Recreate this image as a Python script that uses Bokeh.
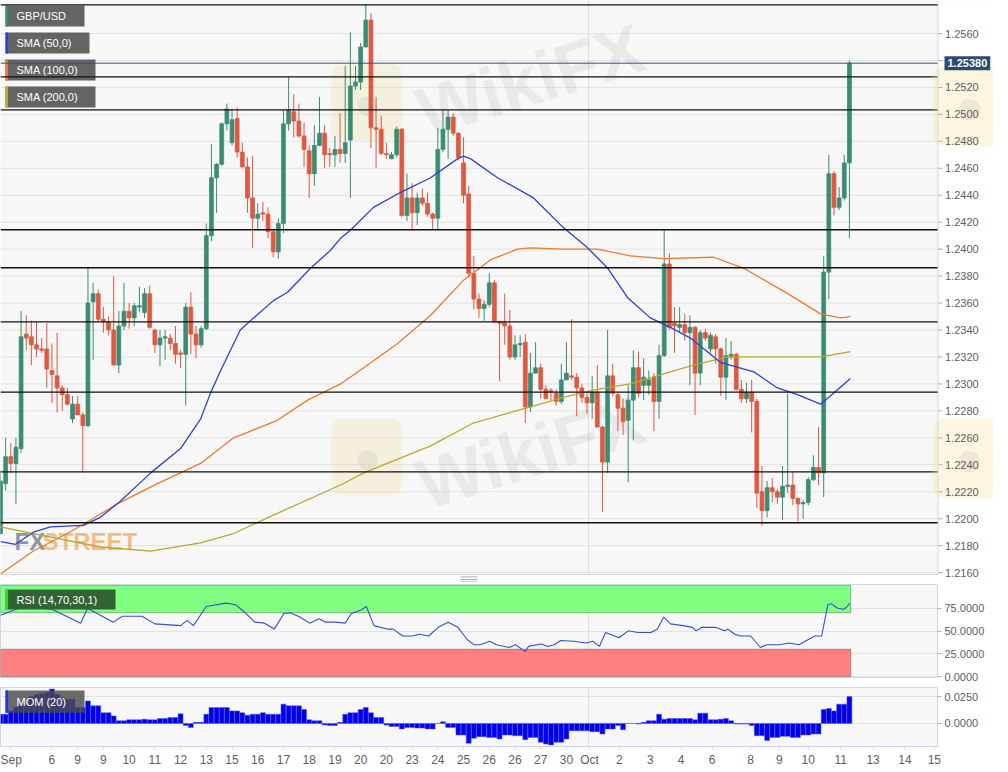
from bokeh.plotting import figure
from bokeh.layouts import column
from bokeh.models import (ColumnDataSource, Span, BoxAnnotation, Label, FixedTicker,
                          NumeralTickFormatter, Range1d)
from bokeh.embed import file_html
from bokeh.resources import INLINE

# ---------------- data (4h candles, GBP/USD) ----------------
opens = [1.2189, 1.2226, 1.2246, 1.2241, 1.2252, 1.2337, 1.2335, 1.2329, 1.2326, 1.2326,
         1.2310, 1.2306, 1.2297, 1.2292, 1.2274, 1.2285, 1.2277, 1.2269, 1.2361, 1.2367,
         1.2348, 1.2346, 1.2340, 1.2314, 1.2343, 1.2354, 1.2349, 1.2357, 1.2353, 1.2367,
         1.2340, 1.2329, 1.2334, 1.2334, 1.2330, 1.2323, 1.2322, 1.2357, 1.2337, 1.2329,
         1.2341, 1.2410, 1.2453, 1.2463, 1.2493, 1.2479, 1.2497, 1.2472, 1.2461, 1.2438,
         1.2423, 1.2427, 1.2426, 1.2413, 1.2398, 1.2419, 1.2493, 1.2502, 1.2495, 1.2484,
         1.2473, 1.2456, 1.2477, 1.2486, 1.2471, 1.2470, 1.2474, 1.2471, 1.2481, 1.2521,
         1.2524, 1.2550, 1.2570, 1.2490, 1.2489, 1.2471, 1.2467, 1.2470, 1.2489, 1.2425,
         1.2438, 1.2427, 1.2438, 1.2434, 1.2426, 1.2423, 1.2474, 1.2489, 1.2498, 1.2486,
         1.2464, 1.2441, 1.2382, 1.2363, 1.2356, 1.2359, 1.2375, 1.2346, 1.2346, 1.2343,
         1.2320, 1.2329, 1.2331, 1.2283, 1.2308, 1.2312, 1.2296, 1.2295, 1.2293, 1.2287,
         1.2303, 1.2306, 1.2305, 1.2297, 1.2290, 1.2286, 1.2294, 1.2268, 1.2242, 1.2306,
         1.2292, 1.2282, 1.2273, 1.2288, 1.2312, 1.2299, 1.2299, 1.2305, 1.2287, 1.2321,
         1.2389, 1.2345, 1.2342, 1.2344, 1.2338, 1.2342, 1.2308, 1.2338, 1.2326, 1.2335,
         1.2326, 1.2305, 1.2320, 1.2322, 1.2296, 1.2289, 1.2294, 1.2287, 1.2220, 1.2206,
         1.2223, 1.2220, 1.2216, 1.2224, 1.2225, 1.2215, 1.2211, 1.2212, 1.2229, 1.2238,
         1.2234, 1.2383, 1.2456, 1.2431, 1.2438, 1.2464]
highs = [1.2236, 1.2260, 1.2256, 1.2260, 1.2354, 1.2351, 1.2347, 1.2346, 1.2334, 1.2345,
         1.2330, 1.2338, 1.2299, 1.2297, 1.2291, 1.2291, 1.2279, 1.2386, 1.2375, 1.2370,
         1.2357, 1.2350, 1.2380, 1.2354, 1.2375, 1.2360, 1.2360, 1.2372, 1.2371, 1.2373,
         1.2341, 1.2340, 1.2340, 1.2337, 1.2343, 1.2325, 1.2360, 1.2368, 1.2343, 1.2343,
         1.2419, 1.2478, 1.2464, 1.2494, 1.2508, 1.2504, 1.2505, 1.2479, 1.2468, 1.2469,
         1.2434, 1.2435, 1.2431, 1.2414, 1.2423, 1.2503, 1.2528, 1.2515, 1.2508, 1.2494,
         1.2477, 1.2492, 1.2513, 1.2492, 1.2475, 1.2484, 1.2501, 1.2536, 1.2561, 1.2536,
         1.2553, 1.2582, 1.2575, 1.2513, 1.2499, 1.2479, 1.2472, 1.2491, 1.2490, 1.2456,
         1.2449, 1.2442, 1.2445, 1.2442, 1.2427, 1.2490, 1.2504, 1.2503, 1.2501, 1.2487,
         1.2483, 1.2447, 1.2395, 1.2367, 1.2362, 1.2382, 1.2377, 1.2347, 1.2367, 1.2355,
         1.2336, 1.2336, 1.2337, 1.2323, 1.2331, 1.2315, 1.2299, 1.2297, 1.2296, 1.2315,
         1.2331, 1.2348, 1.2308, 1.2300, 1.2294, 1.2306, 1.2314, 1.2269, 1.2340, 1.2315,
         1.2294, 1.2289, 1.2299, 1.2325, 1.2324, 1.2319, 1.2310, 1.2308, 1.2329, 1.2414,
         1.2397, 1.2357, 1.2357, 1.2352, 1.2351, 1.2343, 1.2340, 1.2341, 1.2338, 1.2337,
         1.2327, 1.2334, 1.2332, 1.2323, 1.2303, 1.2301, 1.2303, 1.2289, 1.2239, 1.2228,
         1.2230, 1.2222, 1.2239, 1.2293, 1.2235, 1.2216, 1.2214, 1.2231, 1.2247, 1.2268,
         1.2395, 1.2470, 1.2458, 1.2446, 1.2470, 1.2540]
lows = [1.2188, 1.2221, 1.2234, 1.2211, 1.2249, 1.2325, 1.2314, 1.2320, 1.2323, 1.2297,
        1.2286, 1.2279, 1.2280, 1.2284, 1.2271, 1.2277, 1.2234, 1.2268, 1.2318, 1.2346,
        1.2338, 1.2336, 1.2314, 1.2308, 1.2340, 1.2341, 1.2343, 1.2353, 1.2349, 1.2341,
        1.2323, 1.2313, 1.2318, 1.2325, 1.2315, 1.2312, 1.2284, 1.2322, 1.2319, 1.2327,
        1.2340, 1.2406, 1.2427, 1.2462, 1.2488, 1.2477, 1.2468, 1.2461, 1.2427, 1.2401,
        1.2415, 1.2421, 1.2408, 1.2394, 1.2393, 1.2412, 1.2488, 1.2483, 1.2483, 1.2461,
        1.2438, 1.2447, 1.2477, 1.2460, 1.2461, 1.2461, 1.2464, 1.2464, 1.2438, 1.2518,
        1.2518, 1.2550, 1.2475, 1.2460, 1.2470, 1.2467, 1.2467, 1.2468, 1.2424, 1.2421,
        1.2414, 1.2418, 1.2432, 1.2424, 1.2415, 1.2414, 1.2472, 1.2467, 1.2484, 1.2466,
        1.2434, 1.2379, 1.2355, 1.2349, 1.2347, 1.2357, 1.2345, 1.2302, 1.2329, 1.2318,
        1.2318, 1.2320, 1.2271, 1.2279, 1.2308, 1.2289, 1.2289, 1.2288, 1.2284, 1.2285,
        1.2303, 1.2303, 1.2276, 1.2286, 1.2278, 1.2274, 1.2268, 1.2205, 1.2234, 1.2291,
        1.2265, 1.2262, 1.2227, 1.2258, 1.2290, 1.2288, 1.2292, 1.2265, 1.2274, 1.2320,
        1.2340, 1.2323, 1.2338, 1.2332, 1.2299, 1.2277, 1.2299, 1.2332, 1.2323, 1.2315,
        1.2291, 1.2288, 1.2318, 1.2295, 1.2286, 1.2286, 1.2264, 1.2208, 1.2195, 1.2201,
        1.2212, 1.2211, 1.2199, 1.2219, 1.2210, 1.2198, 1.2200, 1.2210, 1.2228, 1.2225,
        1.2216, 1.2363, 1.2425, 1.2429, 1.2436, 1.2408]
closes = [1.2228, 1.2246, 1.2241, 1.2253, 1.2335, 1.2334, 1.2329, 1.2326, 1.2325, 1.2311,
          1.2307, 1.2297, 1.2292, 1.2285, 1.2285, 1.2277, 1.2269, 1.2360, 1.2367, 1.2348,
          1.2346, 1.2340, 1.2314, 1.2343, 1.2354, 1.2349, 1.2358, 1.2358, 1.2367, 1.2342,
          1.2329, 1.2334, 1.2335, 1.2330, 1.2322, 1.2322, 1.2357, 1.2337, 1.2329, 1.2341,
          1.2410, 1.2453, 1.2463, 1.2493, 1.2504, 1.2496, 1.2472, 1.2461, 1.2438, 1.2423,
          1.2426, 1.2426, 1.2413, 1.2398, 1.2419, 1.2493, 1.2503, 1.2495, 1.2484, 1.2474,
          1.2456, 1.2477, 1.2486, 1.2470, 1.2470, 1.2474, 1.2471, 1.2479, 1.2521, 1.2524,
          1.2550, 1.2570, 1.2490, 1.2489, 1.2471, 1.2470, 1.2470, 1.2489, 1.2425, 1.2438,
          1.2427, 1.2438, 1.2434, 1.2426, 1.2423, 1.2474, 1.2489, 1.2498, 1.2486, 1.2468,
          1.2440, 1.2382, 1.2363, 1.2356, 1.2359, 1.2375, 1.2346, 1.2345, 1.2343, 1.2320,
          1.2329, 1.2330, 1.2283, 1.2308, 1.2312, 1.2296, 1.2289, 1.2294, 1.2287, 1.2303,
          1.2308, 1.2305, 1.2297, 1.2290, 1.2286, 1.2294, 1.2268, 1.2242, 1.2306, 1.2293,
          1.2282, 1.2272, 1.2288, 1.2312, 1.2293, 1.2305, 1.2303, 1.2287, 1.2321, 1.2389,
          1.2342, 1.2343, 1.2344, 1.2338, 1.2342, 1.2308, 1.2338, 1.2334, 1.2336, 1.2326,
          1.2305, 1.2321, 1.2322, 1.2296, 1.2289, 1.2294, 1.2287, 1.2219, 1.2206, 1.2223,
          1.2220, 1.2216, 1.2224, 1.2225, 1.2215, 1.2211, 1.2212, 1.2229, 1.2238, 1.2234,
          1.2383, 1.2456, 1.2431, 1.2438, 1.2464, 1.2538]

# moving averages (candle index, value)
sma50_x = [0, 2.9, 6.4, 9.7, 16.1, 19.4, 23.3, 29.2, 35.0, 38.9, 40.8, 42.8, 46.6, 49.2, 53.1,
           55.8, 60.3, 64.1, 66.1, 68.0, 72.5, 77.7, 83.6, 88.8, 90.0, 91.4, 96.6, 103.6, 109.4,
           114.1, 118.0, 121.9, 126.3, 130.2, 134.1, 139.9, 146.4, 151.0, 154.9, 159.4, 161.9, 165.2]
sma50_v = [1.2183, 1.2181, 1.2190, 1.2194, 1.2195, 1.2201, 1.2213, 1.2234, 1.2252, 1.2274, 1.2293,
           1.2310, 1.2340, 1.2349, 1.2362, 1.2368, 1.2386, 1.2399, 1.2408, 1.2414, 1.2431, 1.2442,
           1.2453, 1.2467, 1.2469, 1.2467, 1.2453, 1.2438, 1.2416, 1.2401, 1.2386, 1.2364, 1.2349,
           1.2342, 1.2334, 1.2316, 1.2309, 1.2297, 1.2292, 1.2285, 1.2293, 1.2304]
sma100_x = [0, 6.4, 13.0, 17.5, 22.7, 30.5, 38.9, 45.3, 48.0, 53.8, 59.7, 66.1, 70.6, 77.2, 83.6,
            90.0, 95.2, 100.5, 103.0, 109.4, 116.0, 122.4, 128.9, 138.6, 144.4, 153.0, 159.4, 163.3, 165.2]
sma100_v = [1.2159, 1.2176, 1.2189, 1.2199, 1.2211, 1.2226, 1.2241, 1.2260, 1.2264, 1.2273, 1.2288,
            1.2300, 1.2312, 1.2330, 1.2351, 1.2377, 1.2392, 1.2400, 1.2401, 1.2400, 1.2400, 1.2395,
            1.2393, 1.2394, 1.2386, 1.2367, 1.2352, 1.2349, 1.2350]
sma200_x = [0, 6.4, 19.4, 29.2, 38.9, 45.3, 53.8, 66.1, 70.6, 83.6, 91.9, 103.0, 109.4, 116.0,
            122.4, 130.2, 134.7, 141.3, 147.7, 154.1, 159.4, 165.2]
sma200_v = [1.2194, 1.2189, 1.2179, 1.2176, 1.2182, 1.2189, 1.2204, 1.2225, 1.2234, 1.2254, 1.2271,
            1.2283, 1.2290, 1.2296, 1.2300, 1.2309, 1.2314, 1.2320, 1.2320, 1.2320, 1.2320, 1.2324]

# RSI (14)
rsi_x = [0, 4.4, 10, 15.6, 16.9, 21.9, 23.7, 27.5, 30, 35, 36.3, 37.5, 40, 43.8, 45.7, 47.6, 49.4,
         51.3, 53.2, 55.1, 56.3, 58.2, 60.1, 61.9, 63.2, 65.1, 67, 68.2, 70.1, 71.1, 72.6, 75.1,
         76.3, 78.2, 80.1, 81.3, 83.2, 85.1, 87, 88.9, 90.7, 92, 93.2, 95.1, 96.4, 98.9, 100.1,
         102, 102.6, 105.1, 106.4, 107.6, 108.9, 111.4, 113.9, 115.1, 116.4, 117.6, 120.2, 122,
         123.9, 126.4, 127.7, 128.9, 130.2, 132.7, 134.5, 135.2, 136.4, 138.9, 140.8, 141.4,
         142.7, 143.9, 145.8, 147.7, 148.9, 151.4, 153.3, 155.2, 156.4, 158.3, 159.6, 160.8,
         161.5, 162.7, 163.9, 164.6, 165]
rsi_v = [67.3, 76.8, 73.8, 58.6, 74.9, 59.7, 66.2, 66.2, 57.8, 55.9, 61.6, 55.9, 76.8, 80.6, 78.7,
         70, 59.7, 58.6, 52.1, 69.2, 70, 65.4, 58.6, 63.5, 59.7, 59.7, 58.6, 69.2, 73, 76.8, 55.9,
         52.1, 52.1, 44.5, 44.5, 46.4, 44.5, 54, 59.7, 54, 40.7, 35, 35, 38.8, 35, 31.9, 35, 27.4,
         33.1, 35.7, 33.1, 35, 39.5, 38.8, 36.9, 38.8, 33.1, 48.3, 42.6, 50.2, 48.3, 48.3, 52.1,
         65.4, 57.8, 55.9, 54, 50.2, 54, 54, 50.2, 52.1, 46.4, 44.5, 44.5, 31.9, 35, 35, 36.9, 35,
         38.8, 44.5, 44.5, 78.7, 79.8, 74.9, 73.8, 76.8, 80.6]

# Momentum (20), one bar per candle
mom = [0.0086, 0.0086, 0.0117, 0.0150, 0.0180, 0.0180, 0.0250, 0.0270, 0.0280, 0.0290,
       0.0320, 0.0270, 0.0240, 0.0225, 0.0225, 0.0148, 0.0148, 0.0210, 0.0164, 0.0164,
       0.0100, 0.0100, 0.0070, 0.0025, 0.0025, 0.0034, 0.0034, 0.0034, 0.0040, 0.0034,
       0.0034, 0.0046, 0.0046, 0.0055, 0.0055, 0.0090, -0.0020, -0.0037, 0.0010, 0.0010,
       0.0086, 0.0148, 0.0148, 0.0148, 0.0148, 0.0117, 0.0117, 0.0100, 0.0077, 0.0086,
       0.0086, 0.0100, 0.0086, 0.0086, 0.0086, 0.0180, 0.0164, 0.0164, 0.0164, 0.0130,
       0.0034, 0.0025, 0.0025, -0.0015, -0.0020, -0.0020, 0.0010, 0.0086, 0.0100, 0.0100,
       0.0130, 0.0148, 0.0100, 0.0055, 0.0055, -0.0015, -0.0028, -0.0028, -0.0052, -0.0037,
       -0.0037, -0.0043, -0.0043, -0.0052, -0.0052, 0.0000, 0.0015, -0.0037, -0.0037, -0.0108,
       -0.0108, -0.0185, -0.0139, -0.0123, -0.0123, -0.0130, -0.0130, -0.0145, -0.0108, -0.0108,
       -0.0114, -0.0114, -0.0151, -0.0130, -0.0130, -0.0176, -0.0191, -0.0200, -0.0176, -0.0176,
       -0.0145, -0.0068, -0.0068, -0.0068, -0.0068, -0.0077, -0.0077, -0.0099, -0.0052, -0.0052,
       -0.0020, -0.0059, 0.0000, 0.0000, -0.0006, 0.0010, 0.0025, 0.0025, 0.0086, 0.0040,
       0.0046, 0.0046, 0.0046, 0.0046, 0.0046, 0.0034, 0.0096, 0.0096, 0.0034, 0.0034,
       0.0040, 0.0046, 0.0025, -0.0006, -0.0006, -0.0006, -0.0020, -0.0114, -0.0114, -0.0160,
       -0.0130, -0.0130, -0.0120, -0.0120, -0.0130, -0.0130, -0.0108, -0.0108, -0.0099, -0.0099,
       0.0130, 0.0139, 0.0117, 0.0180, 0.0180, 0.0250]

# horizontal support / resistance levels
levels = [1.25813, 1.25279, 1.25034, 1.24144, 1.23862, 1.23461, 1.22939, 1.22348, 1.21970]

price_ticks = [1.2160, 1.2180, 1.2200, 1.2220, 1.2240, 1.2260, 1.2280, 1.2300, 1.2320, 1.2340,
               1.2360, 1.2380, 1.2400, 1.2420, 1.2440, 1.2460, 1.2480, 1.2500, 1.2520, 1.2540, 1.2560]
rsi_ticks = [0, 25, 50, 75]
mom_ticks = [0.0, 0.025]
date_ticks = [1.9, 10, 15, 20, 25, 30, 35, 40, 45, 50, 55, 60, 65, 70, 75, 80, 85, 90, 95, 100,
              105, 110, 114.5, 120.3, 126.3, 132.3, 138.3, 145.8, 151.4, 157.0, 163.3, 169.6, 175.8, 181.5]
date_labels = ["Sep", "6", "9", "9", "10", "11", "12", "13", "15", "16", "17", "18", "19", "20", "20",
               "23", "24", "25", "26", "26", "27", "30", "Oct", "2", "3", "4", "6", "8", "9", "10",
               "11", "13", "14", "15"]
oct_pos = 114.3

# ---------------- helpers (pixel -> data, for decorations only) ----------------
PX = 5.145
def fx(px):
    return px / PX
def fp(py):
    return 1.25845 - py * 0.0000742
def fr(py):
    return (676.0 - py) / 0.912
def fm(py):
    return (722.7 - py) / 1068.0

FONT = "Liberation Sans"
GREEN = "#3b8c73"
RED = "#df5840"
C50 = "#2b42d6"
C100 = "#ee7a2a"
C200 = "#b9a82c"
AXIS_C = "#ccd6eb"
TICK_C = "#aab0bb"
LABEL_C = "#606060"
BG = "#f7f7f7"

n = len(closes)
idx = list(range(n))
colors = [GREEN if c >= o else RED for o, c in zip(opens, closes)]
src = ColumnDataSource(dict(x=idx, h=highs, l=lows,
                            top=[max(o, c) for o, c in zip(opens, closes)],
                            bot=[min(o, c) for o, c in zip(opens, closes)],
                            col=colors))


def tag(fig, x0, x1, y0, y1, strip, text, tx, ty, fill="#5c5c5c", alpha=0.95):
    fig.add_layout(BoxAnnotation(left=x0, right=x1, top=y0, bottom=y1, fill_color=fill,
                                 fill_alpha=alpha, line_alpha=0, level="annotation"))
    fig.add_layout(BoxAnnotation(left=x0, right=x0 + 0.5, top=y0, bottom=y1, fill_color=strip,
                                 fill_alpha=1, line_alpha=0, level="annotation"))
    fig.add_layout(Label(x=tx, y=ty, text=text, text_font=FONT, text_font_size="11px",
                         text_color="white", text_baseline="middle", text_align="left",
                         level="annotation"))


# ---------------- main price panel (frame also hosts the price scale) ----------------
p = figure(frame_width=993, frame_height=582, x_range=Range1d(0, fx(993)),
           y_range=Range1d(fp(582), fp(0)), x_axis_location=None, y_axis_location=None,
           toolbar_location=None, output_backend="svg", background_fill_color=BG,
           border_fill_color="white", outline_line_color=None, min_border=0)
p.xgrid.visible = False
p.ygrid.visible = False
for t in price_ticks:
    p.add_layout(Span(location=t, dimension="width", line_color="#e2e2e2", line_width=1,
                      level="underlay"))
p.add_layout(Span(location=oct_pos, dimension="height", line_color="#dcdcdc", line_width=1,
                  level="underlay"))

# watermarks
for (wx, wy) in [(530, 80), (530, 452)]:
    p.add_layout(Label(x=fx(wx), y=fp(wy), text="WikiFX", text_font=FONT, text_font_size="70px",
                       text_font_style="bold", text_color="#8a8a8a", text_alpha=0.13,
                       text_align="center", text_baseline="middle", angle=0.30, level="underlay"))
for (lx, ly) in [(331, 64), (331, 418)]:
    p.add_layout(BoxAnnotation(left=fx(lx), right=fx(lx + 71), top=fp(ly), bottom=fp(ly + 76),
                               fill_color="#f3d98a", fill_alpha=0.22, line_alpha=0,
                               border_radius=10, level="underlay"))
    p.add_layout(Label(x=fx(lx + 36), y=fp(ly + 38), text="\u25CF", text_font_size="46px",
                       text_color="#8a8a8a", text_alpha=0.15, text_align="center",
                       text_baseline="middle", level="underlay"))
p.add_layout(Label(x=fx(14), y=fp(541), text="FX", text_font=FONT,
                   text_font_size="24px", text_font_style="bold", text_color="#7d8494",
                   text_alpha=0.85, text_baseline="middle", level="underlay"))
p.add_layout(Label(x=fx(42), y=fp(541), text="STREET", text_font=FONT,
                   text_font_size="24px", text_font_style="bold", text_color="#f0ae62",
                   text_alpha=0.8, text_baseline="middle", level="underlay"))

p.segment(x0="x", y0="h", x1="x", y1="l", source=src, line_color="col", line_width=1)
p.vbar(x="x", width=0.74, top="top", bottom="bot", source=src, fill_color="col",
       line_color="col", line_width=0.8)

p.line(sma200_x, sma200_v, line_color=C200, line_width=1.3)
p.line(sma100_x, sma100_v, line_color=C100, line_width=1.3)
p.line(sma50_x, sma50_v, line_color=C50, line_width=1.3)

# legend tags
tag(p, fx(5), fx(84), fp(5), fp(26), GREEN, "GBP/USD", fx(16), fp(15.5))
tag(p, fx(5), fx(89), fp(32), fp(53), C50, "SMA (50,0)", fx(16), fp(42.5))
tag(p, fx(5), fx(95), fp(59), fp(80), C100, "SMA (100,0)", fx(16), fp(69.5))
tag(p, fx(5), fx(95), fp(86), fp(107), C200, "SMA (200,0)", fx(16), fp(96.5))

for lv in levels:
    p.add_layout(Span(location=lv, dimension="width", line_color="#111111", line_width=1.3,
                      level="annotation"))
p.add_layout(Span(location=closes[-1], dimension="width", line_color="#34507a", line_width=1,
                  level="annotation"))

# white area for the price scale and the gap under the frame
p.add_layout(BoxAnnotation(left=fx(937.5), right=fx(1000), top=fp(-2), bottom=fp(584),
                           fill_color="white", fill_alpha=1, line_alpha=0, level="annotation"))
p.add_layout(BoxAnnotation(left=fx(-2), right=fx(938), top=fp(574.5), bottom=fp(584),
                           fill_color="white", fill_alpha=1, line_alpha=0, level="annotation"))
# frame edges / axis line
p.add_layout(BoxAnnotation(left=fx(937), right=fx(938), top=fp(0), bottom=fp(574.5),
                           fill_color=AXIS_C, fill_alpha=1, line_alpha=0, level="annotation"))
p.add_layout(BoxAnnotation(left=fx(-2), right=fx(938), top=fp(573.5), bottom=fp(574.5),
                           fill_color="#d3d7de", fill_alpha=1, line_alpha=0, level="annotation"))
# panel resize handle (three thin strokes)
for hy in (576.0, 578.5, 581.0):
    p.add_layout(BoxAnnotation(left=fx(460), right=fx(477), top=fp(hy), bottom=fp(hy + 0.8),
                               fill_color="#9a9a9a", fill_alpha=1, line_alpha=0, level="annotation"))
# watermark logos beside the scale
for (lx, ly) in [(932, 66), (932, 418)]:
    p.add_layout(BoxAnnotation(left=fx(lx), right=fx(lx + 74), top=fp(ly), bottom=fp(ly + 80),
                               fill_color="#f6dd90", fill_alpha=0.28, line_alpha=0,
                               border_radius=12, level="annotation"))
    p.add_layout(Label(x=fx(lx + 37), y=fp(ly + 40), text="\u25CF", text_font_size="50px",
                       text_color="#8a8a8a", text_alpha=0.13, text_align="center",
                       text_baseline="middle", level="annotation"))

# price scale: ticks and labels
for t in price_ticks:
    p.add_layout(BoxAnnotation(left=fx(938), right=fx(942), top=t + 0.00004, bottom=t - 0.00004,
                               fill_color=TICK_C, fill_alpha=1, line_alpha=0, level="annotation"))
    if abs(t - closes[-1]) > 0.0008:
        p.add_layout(Label(x=fx(944.5), y=t, text="%.4f" % t, text_font=FONT,
                           text_font_size="11px", text_color=LABEL_C, text_align="left",
                           text_baseline="middle", level="annotation"))
p.add_layout(Label(x=fx(944), y=closes[-1], text="%.5f" % closes[-1], text_font=FONT,
                   text_font_size="11px", text_font_style="bold", text_color="white",
                   background_fill_color="#2d4a72", background_fill_alpha=1, padding=3,
                   text_baseline="middle", text_align="left", level="annotation"))

# ---------------- lower panels ----------------
xr = Range1d(0, fx(937))
common = dict(x_range=xr, frame_width=937, toolbar_location=None, output_backend="svg",
              y_axis_location="right", background_fill_color=BG,
              border_fill_color="white", outline_line_color="#d3d7de",
              min_border_left=0, min_border_right=56)


def style(fig, ticks):
    fig.xgrid.visible = False
    fig.ygrid.grid_line_color = "#e2e2e2"
    ax = fig.yaxis[0]
    ax.ticker = FixedTicker(ticks=ticks)
    ax.formatter = NumeralTickFormatter(format="0.0000")
    ax.axis_line_color = AXIS_C
    ax.major_tick_line_color = TICK_C
    ax.major_tick_out = 4
    ax.major_tick_in = 0
    ax.minor_tick_line_color = None
    ax.major_label_standoff = 3
    ax.major_label_text_font = FONT
    ax.major_label_text_font_size = "11px"
    ax.major_label_text_color = LABEL_C
    fig.add_layout(Span(location=oct_pos, dimension="height", line_color="#dcdcdc",
                        line_width=1, level="underlay"))


# RSI
r = figure(frame_height=93, y_range=Range1d(-1, 101), x_axis_location=None,
           min_border_top=2, min_border_bottom=6, **common)
style(r, rsi_ticks)
r.add_layout(BoxAnnotation(left=0, right=n - 1 + 0.25, bottom=70, top=100,
                           fill_color="#80ff80", fill_alpha=1, line_color="#111111",
                           line_width=1, level="underlay"))
r.add_layout(BoxAnnotation(left=0, right=n - 1 + 0.25, bottom=0, top=30,
                           fill_color="#ff8080", fill_alpha=1, line_color="#111111",
                           line_width=1, level="underlay"))
r.line(rsi_x, rsi_v, line_color="#3352c9", line_width=1.1)
tag(r, fx(5), fx(115), fr(589), fr(609), "#3fd13f", "RSI (14,70,30,1)", fx(16), fr(599),
    fill="#2f5e2f", alpha=0.97)

# Momentum
m = figure(frame_height=59, y_range=Range1d(-0.0215, 0.0335), x_axis_location="below",
           min_border_top=4, min_border_bottom=0, **common)
style(m, mom_ticks)
m.vbar(x=idx, top=mom, bottom=0, width=0.95, fill_color="#0000ee", line_color="#5050ff",
       line_width=0.5)
tag(m, fx(5), fx(84), fm(690), fm(712), "#2233ee", "MOM (20)", fx(16), fm(701),
    fill="#4a4a4a", alpha=0.82)

xa = m.xaxis[0]
xa.ticker = FixedTicker(ticks=date_ticks)
xa.major_label_overrides = {t: lab for t, lab in zip(date_ticks, date_labels)}
xa.axis_line_color = AXIS_C
xa.major_tick_line_color = AXIS_C
xa.major_tick_out = 3
xa.major_tick_in = 0
xa.minor_tick_line_color = None
xa.major_label_standoff = 3
xa.major_label_text_font = FONT
xa.major_label_text_font_size = "12px"
xa.major_label_text_color = LABEL_C

layout = column(p, r, m)
open("out.html", "w").write(file_html(layout, INLINE))
